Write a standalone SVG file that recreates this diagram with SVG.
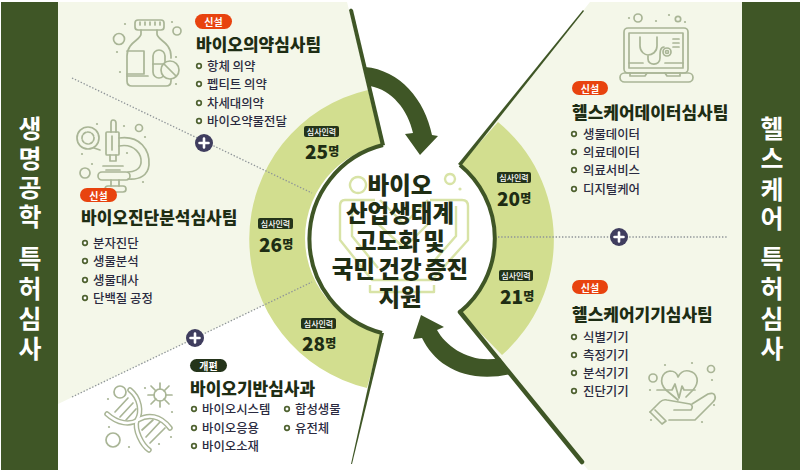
<svg xmlns="http://www.w3.org/2000/svg" width="800" height="472" viewBox="0 0 800 472">
<style>
text{font-family:"Noto Sans CJK KR","Noto Sans",sans-serif;dominant-baseline:central}
.band{fill:#3f5626}
.side{fill:#fff;font-size:25px;font-weight:700;text-anchor:middle}
.cream{fill:#f4f7e9}
.green{fill:#d2de8f}
.edge{fill:none;stroke:#3f5626;stroke-width:4}
.dot{fill:none;stroke:#8e9498;stroke-width:1.3;stroke-dasharray:1.4 1.8}
.pill{fill:#e8430f}
.pill2{fill:#24341a}
.ptx{fill:#fff;font-size:10px;font-weight:700;text-anchor:middle}
.title{fill:#1e2d14;font-size:17px;font-weight:900}
.li{fill:#2a2a40;font-size:12.4px;font-weight:500}
.b{fill:#fff;stroke:#4f6230;stroke-width:1.7}
.bdg{fill:#24341a}
.btx{fill:#fff;font-size:8px;font-weight:500;text-anchor:middle}
.num{fill:#1e2d14;font-size:19px;font-weight:900}
.num tspan{font-size:12px}
.ctr{fill:#1e2d14;font-size:23.5px;font-weight:900;text-anchor:middle;word-spacing:-2px}
.ic{fill:none;stroke:#a9b596;stroke-width:1.7;stroke-linecap:round;stroke-linejoin:round}
.icd{fill:#a9b596}
.cic{fill:none;stroke:#d8e3a6;stroke-width:2.4;stroke-linejoin:round}
.plus{fill:#3f3d5e}
.plusl{stroke:#fff;stroke-width:2.6;stroke-linecap:round}
</style>
<defs>
<g id="pl"><circle class="plus" r="9"/><path class="plusl" d="M-4.5,0H4.5M0,-4.5V4.5"/></g>
</defs>

<g id="backgrounds">
<path class="cream" d="M58,2H347L383,145L400,238L312,282L58,404Z"/>
<path class="cream" d="M590,2H742V470H588L460,312L400,238L460,165Z"/>
<path class="green" d="M383,145L368,90A153,153 0 0 0 367,388L382,333A97,97 0 0 1 383,145Z"/>
<path class="green" d="M460,165L498,122A153,153 0 0 1 502,355L460,312A95,95 0 0 0 460,165Z"/>
<circle cx="400" cy="238" r="95" fill="#fff"/>
<rect class="band" x="1" y="2" width="57" height="468"/>
<rect class="band" x="742" y="2" width="58" height="468"/>
</g>

<g id="side-labels">
<text class="side" x="30 30 30 30 30 30 30 30 30" y="127 157 186 215 236 257 287 317 347">생명공학 특허심사</text>
<text class="side" x="772 772 772 772 772 772 772 772 772" y="127 157 188 217 236 257 287 317 347">헬스케어 특허심사</text>
</g>

<g id="connectors">
<path class="dot" d="M72,78L312,193"/>
<path class="dot" d="M72,397L312,282"/>
<path class="dot" d="M498,237H727"/>
<path class="edge" d="M383,145A97,97 0 0 0 382,333"/>
<path class="edge" d="M460,165A95,95 0 0 1 460,312"/>
<path d="M349,10Q351,7 353,10L385,145L381,146Z" fill="#3f5626"/>
<path d="M380,333L384,333L352,464L351,464Z" fill="#3f5626"/>
<path d="M458,164L461,166L584,11L583,10Z" fill="#3f5626"/>
<path d="M460,312L582,462" fill="none" stroke="#3f5626" stroke-width="4.5" stroke-linecap="round"/>
<path d="M365,67C400,70 425,100 432,135L438,136L420,155L405,134L413,133C408,110 392,90 370,86Z" fill="#3f5626"/>
<path d="M421,315L444,327L437,330C447,348 472,364 500,358L511,374C465,384 435,365 422,338L413,339Z" fill="#3f5626"/>
</g>

<g id="center">
<path class="cic" d="M358,177a8,8 0 1 0 .01,0M450,174a5,5 0 1 0 .01,0"/>
<circle cx="460" cy="189" r="1.600" fill="#d8e3a6"/>
<path class="cic" d="M375,200H345Q340,200 340,206V240L372,280H432L468,240V206Q468,200 462,200H430"/>
<path class="cic" d="M352,206V236L378,268M456,206V236L428,268"/>
<path class="cic" d="M380,200L404,224L428,200M370,285V292H434V285M376,222L404,248L430,222"/>
<text class="ctr"><tspan x="400" y="184">바이오</tspan><tspan x="400" y="212">산업생태계</tspan><tspan x="400" y="240">고도화 및</tspan><tspan x="400" y="268">국민 건강 증진</tspan><tspan x="400" y="296">지원</tspan></text>
</g>

<g id="plus-1"><use href="#pl" x="204" y="143"/></g>
<g id="plus-2"><use href="#pl" x="195" y="338"/></g>
<g id="plus-3"><use href="#pl" x="619" y="237"/></g>

<g id="count-25"><rect class="bdg" x="304" y="126" width="35" height="11" rx="2"/><text class="btx" x="321.500" y="131.500">심사인력</text><text class="num" x="305" y="150">25<tspan>명</tspan></text></g>
<g id="count-26"><rect class="bdg" x="258" y="218" width="35" height="11" rx="2"/><text class="btx" x="275.500" y="223.500">심사인력</text><text class="num" x="259" y="243">26<tspan>명</tspan></text></g>
<g id="count-28"><rect class="bdg" x="301" y="318" width="35" height="11" rx="2"/><text class="btx" x="318.500" y="323.500">심사인력</text><text class="num" x="302" y="342">28<tspan>명</tspan></text></g>
<g id="count-20"><rect class="bdg" x="497" y="172" width="34" height="11" rx="2"/><text class="btx" x="514" y="177.500">심사인력</text><text class="num" x="497" y="197">20<tspan>명</tspan></text></g>
<g id="count-21"><rect class="bdg" x="499" y="270" width="34" height="11" rx="2"/><text class="btx" x="516" y="275.500">심사인력</text><text class="num" x="500" y="295">21<tspan>명</tspan></text></g>

<g id="team-drug">
<g class="ic">
<rect x="135" y="20" width="29" height="10" rx="3"/>
<path d="M140,25V22M145,25V22M150,25V22M155,25V22M160,25V22"/>
<path d="M141,30V34C141,40 127,42 127,56V81Q127,86 132,86H166Q171,86 171,81V78M171,58V56C171,42 157,40 157,34V30"/>
<path d="M127,51H144V74H127M127,76H148"/>
<rect x="153" y="50" width="12" height="28" rx="6"/>
<path d="M153,64H165"/>
<circle cx="170" cy="70" r="9" fill="#f4f7e9"/>
<path d="M164,64L176,76"/>
<circle cx="119" cy="39" r="5.500"/>
<circle cx="177" cy="31" r="4"/>
</g>
<g class="icd"><circle cx="125" cy="24" r="1.100"/><circle cx="172" cy="22" r="1.100"/><circle cx="117" cy="52" r="1.100"/><circle cx="176" cy="57" r="1.100"/><circle cx="120" cy="72" r="1.100"/><circle cx="176" cy="84" r="1.100"/></g>
<rect class="pill" x="195" y="14" width="37" height="15" rx="7.500"/><text class="ptx" x="213.500" y="21.500">신설</text>
<text class="title" x="196" y="43">바이오의약심사팀</text>
<g id="list-drug">
<circle class="b" cx="199" cy="66" r="2.300"/><text class="li" x="207" y="66">항체 의약</text>
<circle class="b" cx="199" cy="84" r="2.300"/><text class="li" x="207" y="84">펩티트 의약</text>
<circle class="b" cx="199" cy="103" r="2.300"/><text class="li" x="207" y="103">차세대의약</text>
<circle class="b" cx="199" cy="121" r="2.300"/><text class="li" x="207" y="121">바이오약물전달</text>
</g>
</g>

<g id="team-diagnosis">
<g class="ic">
<circle cx="88" cy="138" r="11"/>
<circle cx="88" cy="138" r="6" stroke-dasharray="3 1.500"/>
<path d="M94,148L100,150"/>
<rect x="106" y="132" width="13" height="23" rx="1"/>
<path d="M111,132V123Q111,120 113,120Q116,120 116,123V132M112,136V150M110,155V161H116V155"/>
<path d="M119,138C140,135 150,150 149,165C148,175 140,180 128,179"/>
<path d="M119,146C135,143 142,155 141,163C140,170 133,172 128,172"/>
<path d="M103,166H123M106,170H120"/>
<rect x="98" y="172" width="32" height="8" rx="4"/>
<path d="M111,180V186M119,180V186"/>
<rect x="105" y="186" width="21" height="6" rx="3"/>
<circle cx="85" cy="173" r="5"/>
<circle cx="139" cy="128" r="3.500"/>
</g>
<g class="icd"><circle cx="97" cy="124" r="1.100"/><circle cx="124" cy="126" r="1.100"/><circle cx="145" cy="137" r="1.100"/><circle cx="127" cy="153" r="1.100"/><circle cx="82" cy="154" r="1.100"/><circle cx="92" cy="164" r="1.100"/><circle cx="143" cy="182" r="1.100"/></g>
<rect class="pill" x="80" y="188" width="37" height="14" rx="7"/><text class="ptx" x="98.500" y="195">신설</text>
<text class="title" x="81" y="216">바이오진단분석심사팀</text>
<g id="list-diagnosis">
<circle class="b" cx="85" cy="243" r="2.300"/><text class="li" x="93" y="243">분자진단</text>
<circle class="b" cx="85" cy="261" r="2.300"/><text class="li" x="93" y="261">생물분석</text>
<circle class="b" cx="85" cy="280" r="2.300"/><text class="li" x="93" y="280">생물대사</text>
<circle class="b" cx="85" cy="298" r="2.300"/><text class="li" x="93" y="298">단백질 공정</text>
</g>
</g>

<g id="team-base">
<g class="ic">
<path d="M115,412L128,398M120,417L133,403M126,420L136,409"/>
<path d="M142,430L153,420M146,437L160,422M150,443L165,428"/>
<path d="M130,390C140,398 142,412 137,420C134,430 142,445 149,450" stroke-width="5.500"/>
<path d="M107,414C118,424 130,425 138,420C148,414 160,415 170,428" stroke-width="5.500"/>
<path d="M130,390C140,398 142,412 137,420C134,430 142,445 149,450" stroke="#fff" stroke-width="2.600"/>
<path d="M107,414C118,424 130,425 138,420C148,414 160,415 170,428" stroke="#fff" stroke-width="2.600"/>
<circle cx="120" cy="392" r="6"/>
<circle cx="113" cy="440" r="7"/>
<circle cx="160" cy="395" r="6"/>
<path d="M160,389V383M160,401V407M154,395H148M166,395H172M156,391L151,386M164,391L169,386M156,399L151,404M164,399L169,404"/>
</g>
<g class="icd"><circle cx="108" cy="399" r="1.100"/><circle cx="145" cy="388" r="1.100"/><circle cx="172" cy="412" r="1.100"/><circle cx="109" cy="427" r="1.100"/><circle cx="171" cy="437" r="1.100"/><circle cx="159" cy="444" r="1.100"/><circle cx="129" cy="447" r="1.100"/></g>
<rect class="pill2" x="190" y="359" width="37" height="13" rx="6.500"/><text class="ptx" x="208.500" y="365.500">개편</text>
<text class="title" x="190" y="387">바이오기반심사과</text>
<g id="list-base">
<circle class="b" cx="194" cy="409" r="2.300"/><text class="li" x="202" y="409">바이오시스템</text>
<circle class="b" cx="194" cy="428" r="2.300"/><text class="li" x="202" y="428">바이오응용</text>
<circle class="b" cx="194" cy="446" r="2.300"/><text class="li" x="202" y="446">바이오소재</text>
<circle class="b" cx="287" cy="409" r="2.300"/><text class="li" x="295" y="409">합성생물</text>
<circle class="b" cx="287" cy="428" r="2.300"/><text class="li" x="295" y="428">유전체</text>
</g>
</g>

<g id="team-data">
<g class="ic">
<rect x="624" y="28" width="64" height="45" rx="4"/>
<rect x="629" y="33" width="54" height="35"/>
<path d="M629,63H643M665,63H683"/>
<rect x="620" y="73" width="73" height="9" rx="4.500"/>
<path d="M630,73V76H645L647,73M665,73L667,76H680V73"/>
<path d="M640,37V46C640,52 645,55 648,55C652,55 657,52 657,46V37M648,55V59C648,66 660,66 660,58C660,52 660,47 664,47"/>
<circle cx="667" cy="52" r="4"/>
<circle cx="667" cy="52" r="1.500"/>
<path d="M673,39H679M673,43H679M673,47H679"/>
<circle cx="638" cy="18" r="4"/>
<circle cx="678" cy="19" r="2.700"/>
</g>
<g class="icd"><circle cx="629" cy="18" r="1.100"/><circle cx="656" cy="21" r="1.100"/><circle cx="669" cy="15" r="1.100"/><circle cx="685" cy="22" r="1.100"/></g>
<rect class="pill" x="572" y="81" width="36" height="14" rx="7"/><text class="ptx" x="590" y="88">신설</text>
<text class="title" x="572" y="111">헬스케어데이터심사팀</text>
<g id="list-data">
<circle class="b" cx="574" cy="134" r="2.300"/><text class="li" x="583" y="134">생물데이터</text>
<circle class="b" cx="574" cy="152" r="2.300"/><text class="li" x="583" y="152">의료데이터</text>
<circle class="b" cx="574" cy="170" r="2.300"/><text class="li" x="583" y="170">의료서비스</text>
<circle class="b" cx="574" cy="189" r="2.300"/><text class="li" x="583" y="189">디지털케어</text>
</g>
</g>

<g id="team-device">
<g class="ic">
<path d="M678,400L666,390C658,382 662,372 670,371C674,371 677,373 678,377C680,373 684,370 689,371C698,373 700,382 693,390L686,397"/>
<path d="M657,390H672L675,384L679,398L682,386L684,390H695"/>
<path d="M650,412L660,402Q663,399 667,400L690,404Q694,406 691,410H674"/>
<path d="M692,404L708,394Q714,392 715,396Q716,399 713,402L695,420H669"/>
<path d="M650,412L662,424L666,421L655,410"/>
<circle cx="653" cy="378" r="4"/>
<circle cx="711" cy="369" r="3.500"/>
</g>
<g class="icd"><circle cx="665" cy="365" r="1.100"/><circle cx="692" cy="363" r="1.100"/><circle cx="650" cy="390" r="1.100"/><circle cx="712" cy="380" r="1.100"/><circle cx="651" cy="420" r="1.100"/><circle cx="714" cy="405" r="1.100"/><circle cx="702" cy="422" r="1.100"/></g>
<rect class="pill" x="572" y="280" width="36" height="14" rx="7"/><text class="ptx" x="590" y="287">신설</text>
<text class="title" x="572" y="313">헬스케어기기심사팀</text>
<g id="list-device">
<circle class="b" cx="574" cy="337" r="2.300"/><text class="li" x="583" y="337">식별기기</text>
<circle class="b" cx="574" cy="355" r="2.300"/><text class="li" x="583" y="355">측정기기</text>
<circle class="b" cx="574" cy="373" r="2.300"/><text class="li" x="583" y="373">분석기기</text>
<circle class="b" cx="574" cy="391" r="2.300"/><text class="li" x="583" y="391">진단기기</text>
</g>
</g>
</svg>
